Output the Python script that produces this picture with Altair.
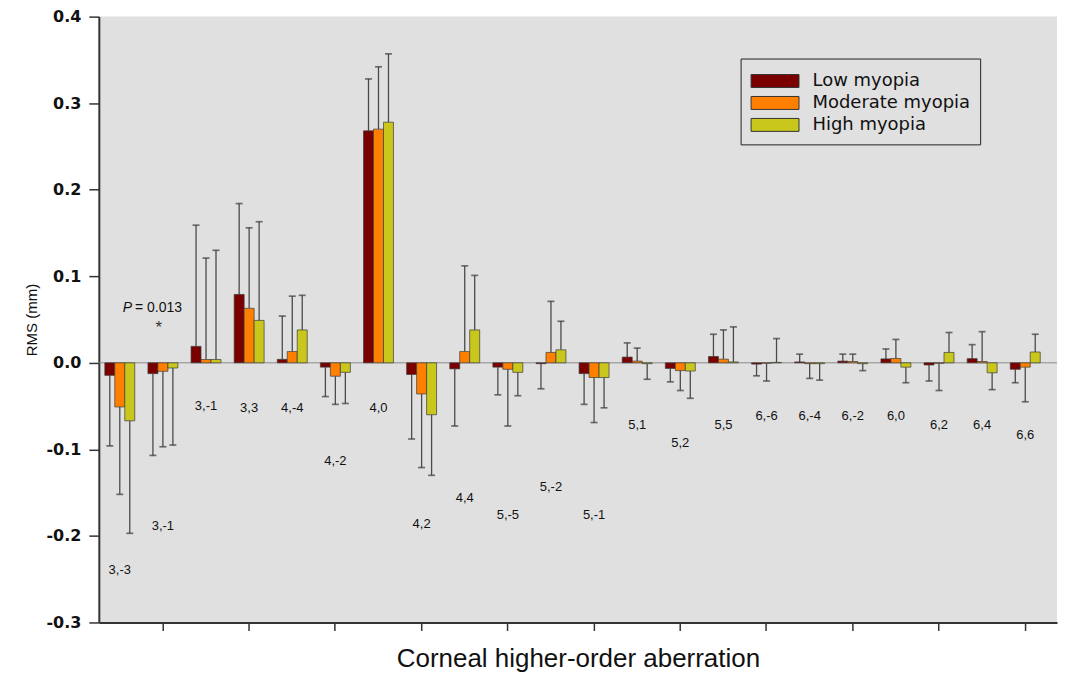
import altair as alt
import pandas as pd

# ---- data ----
groups = ["3,-3", "3,-1", "3,1", "3,3", "4,-4", "4,-2", "4,0", "4,2", "4,4", "5,-5", "5,-3",
          "5,-1", "5,1", "5,3", "5,5", "6,-6", "6,-4", "6,-2", "6,0", "6,2", "6,4", "6,6"]
shown_labels = ["3,-3", "3,-1", "3,-1", "3,3", "4,-4", "4,-2", "4,0", "4,2", "4,4", "5,-5", "5,-2",
                "5,-1", "5,1", "5,2", "5,5", "6,-6", "6,-4", "6,-2", "6,0", "6,2", "6,4", "6,6"]
label_y = [-0.239, -0.189, -0.050, -0.052, -0.052, -0.114, -0.052, -0.186, -0.156, -0.176, -0.144,
           -0.176, -0.072, -0.093, -0.072, -0.062, -0.062, -0.062, -0.062, -0.072, -0.072, -0.083]

series = ["Low myopia", "Moderate myopia", "High myopia"]
colors = ["#7A0000", "#FF8000", "#C9C71C"]

low = [-0.0145, -0.0125, 0.019, 0.079, 0.004, -0.005, 0.268, -0.0135, -0.007, -0.005, -0.001,
       -0.0125, 0.0066, -0.0065, 0.0073, -0.0015, 0.001, 0.002, 0.0045, -0.0025, 0.0048, -0.0075]
low_err = [-0.096, -0.107, 0.159, 0.184, 0.054, -0.039, 0.328, -0.088, -0.073, -0.037, -0.030,
           -0.048, 0.023, -0.022, 0.033, -0.015, 0.010, 0.010, 0.016, -0.021, 0.021, -0.023]
moderate = [-0.051, -0.0098, 0.0038, 0.063, 0.013, -0.0155, 0.270, -0.036, 0.013, -0.0075, 0.012,
            -0.017, 0.002, -0.009, 0.0042, -0.0005, -0.001, 0.0015, 0.005, -0.0005, 0.0015, -0.005]
moderate_err = [-0.152, -0.097, 0.121, 0.156, 0.077, -0.048, 0.342, -0.121, 0.112, -0.073, 0.071,
                -0.069, 0.017, -0.032, 0.038, -0.021, -0.018, 0.010, 0.027, -0.032, 0.036, -0.045]
high = [-0.067, -0.006, 0.0038, 0.049, 0.038, -0.011, 0.278, -0.060, 0.038, -0.011, 0.015,
        -0.017, -0.001, -0.0095, 0.001, 0.0005, -0.001, -0.001, -0.005, 0.012, -0.0115, 0.0125]
high_err = [-0.197, -0.095, 0.130, 0.163, 0.078, -0.047, 0.357, -0.130, 0.101, -0.038, 0.048,
            -0.052, -0.019, -0.041, 0.0415, 0.028, -0.020, -0.009, -0.023, 0.035, -0.031, 0.033]

y_ticks = [-0.3, -0.2, -0.1, 0.0, 0.1, 0.2, 0.3, 0.4]

# ---- tables ----
rows = []
for s, vals, errs in zip(series, [low, moderate, high], [low_err, moderate_err, high_err]):
    for g, v, e in zip(groups, vals, errs):
        rows.append({"group": g, "series": s, "value": v, "err": e})
df = pd.DataFrame(rows)
lab_df = pd.DataFrame({"group": groups, "label": shown_labels, "value": label_y})
p_df = pd.DataFrame({"group": ["3,-1"], "value": [0.059], "ystar": [0.040]})
zero_df = pd.DataFrame({"value": [0.0]})

FONT = "Liberation Sans"

x_scale = alt.Scale(domain=groups, paddingInner=0.3056, paddingOuter=0.264, align=0.263)
y_scale = alt.Scale(domain=[-0.3, 0.4], nice=False, zero=False)

x_axis = alt.Axis(values=groups[1::2], labels=False, tickSize=8, tickWidth=1.5,
                  tickColor="#333", domainColor="#333", domainWidth=2,
                  titleFont=FONT, titleFontSize=26, titleFontWeight="normal",
                  titleColor="#111", titlePadding=14)
y_axis = alt.Axis(values=y_ticks, grid=False, tickSize=10, tickWidth=1.5,
                  tickColor="#333", domainColor="#333", domainWidth=2,
                  labelFont="DejaVu Sans", labelFontSize=16, labelFontWeight="bold",
                  labelColor="#111", labelPadding=8,
                  labelExpr="datum.value < -0.00001 ? '-' + format(-datum.value, '.1f') : format(abs(datum.value), '.1f')",
                  titleFont=FONT, titleFontSize=15, titleFontWeight="normal",
                  titleColor="#111", titlePadding=6, titleLimit=400)

X_TITLE = "Corneal higher-order aberration"
Y_TITLE = "RMS (mm)"


def xe():
    return alt.X("group:N", scale=x_scale, sort=groups, axis=x_axis, title=X_TITLE)


def ye(field="value:Q"):
    return alt.Y(field, scale=y_scale, axis=y_axis, title=Y_TITLE)


xoff = alt.XOffset("series:N", sort=series, scale=alt.Scale(domain=series, paddingInner=0, paddingOuter=0))

zero = alt.Chart(zero_df).mark_rule(color="#8a8a8a", strokeWidth=1).encode(y=ye())

err_rule = alt.Chart(df).mark_rule(color="#4a4a4a", strokeWidth=1.3).encode(
    x=xe(), xOffset=xoff, y=ye(), y2="err:Q")

err_cap = alt.Chart(df).mark_tick(color="#3a3a3a", thickness=1.7, size=7).encode(
    x=xe(), xOffset=xoff, y=ye("err:Q"))

bars = alt.Chart(df).mark_bar(stroke="#3a3a3a", strokeWidth=0.7).encode(
    x=xe(), xOffset=xoff, y=ye(),
    color=alt.Color("series:N", sort=series, scale=alt.Scale(domain=series, range=colors),
                    legend=alt.Legend(title=None, orient="none", legendX=643, legendY=42,
                                      direction="vertical",
                                      symbolType="M-1,-0.54L3,-0.54L3,0.54L-1,0.54Z",
                                      symbolSize=576, symbolStrokeColor="#333",
                                      symbolStrokeWidth=1, symbolOpacity=1,
                                      labelFont="DejaVu Sans", labelFontSize=18,
                                      labelColor="#111", labelOffset=37, rowPadding=0,
                                      padding=10, strokeColor="#222",
                                      fillColor="#E0E0E0", labelLimit=300)))

labels = alt.Chart(lab_df).mark_text(font=FONT, fontSize=13, color="#111",
                                     baseline="middle").encode(
    x=xe(), y=ye(), text="label:N")

p_italic = alt.Chart(p_df).mark_text(font=FONT, fontSize=14, fontStyle="italic", color="#111",
                                     align="right", baseline="alphabetic", dx=-31).encode(
    x=xe(), y=ye(), text=alt.value("P"))
p_value = alt.Chart(p_df).mark_text(font=FONT, fontSize=14, color="#111",
                                    align="left", baseline="alphabetic", dx=-28).encode(
    x=xe(), y=ye(), text=alt.value("= 0.013"))
star = alt.Chart(p_df).mark_text(font=FONT, fontSize=17, color="#333333",
                                 baseline="middle", dx=-4).encode(
    x=xe(), y=ye("ystar:Q"), text=alt.value("*"))

chart = alt.layer(zero, err_rule, err_cap, bars, labels, p_italic, p_value, star).properties(
    width=960, height=607,
    padding={"left": 17, "top": 0, "right": 0, "bottom": 0},
    background="white",
).configure_view(fill="#E0E0E0", stroke=None)

chart.save("out.html", embed_options={"renderer": "svg", "actions": False})
